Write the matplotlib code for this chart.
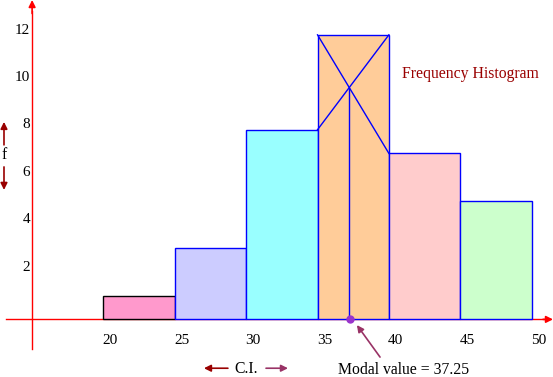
import matplotlib
matplotlib.use("Agg")
import matplotlib.pyplot as plt
from matplotlib.patches import Rectangle

# --- data ---------------------------------------------------------------
EDGES = [20, 25, 30, 35, 40, 45, 50]
FREQS = [1, 3, 8, 12, 7, 5]
Y_TICKS = [2, 4, 6, 8, 10, 12]
MODAL_VALUE = 37.25

FILLS = ["#ff99cc", "#ccccff", "#99ffff", "#ffcc99", "#ffcccc", "#ccffcc"]
EDGE_COLS = ["#000000", "#0000ff", "#0000ff", "#0000ff", "#0000ff", "#0000ff"]
AXIS_RED = "#ff0000"
DARK_RED = "#990000"
PLUM = "#993366"

plt.rcParams["font.family"] = ["Liberation Serif", "DejaVu Serif"]

fig = plt.figure(figsize=(5.53, 3.77), dpi=100)
ax = fig.add_axes([0, 0, 1, 1])
ax.set_xlim(12.75, 51.5)
ax.set_ylim(-2.43, 13.47)
ax.axis("off")


def arrow(x0, y0, x1, y1, color, scale=10):
    ax.annotate("", xy=(x1, y1), xytext=(x0, y0),
                arrowprops=dict(arrowstyle="-|>", color=color, lw=1.2,
                                shrinkA=0, shrinkB=0, mutation_scale=scale))


# bars
for i, f in enumerate(FREQS):
    x0, x1 = EDGES[i], EDGES[i + 1]
    ax.add_patch(Rectangle((x0, 0), x1 - x0, f, facecolor=FILLS[i],
                           edgecolor=EDGE_COLS[i], linewidth=1.0, zorder=2))

# modal construction: cross lines inside modal bar
m = FREQS.index(max(FREQS))
l, r = EDGES[m], EDGES[m + 1]
fm, f_prev, f_next = FREQS[m], FREQS[m - 1], FREQS[m + 1]
ax.plot([l, r], [fm, f_next], color="#0000ff", lw=1.0, zorder=3)
ax.plot([r, l], [fm, f_prev], color="#0000ff", lw=1.0, zorder=3)
xi = l + (fm - f_prev) / ((fm - f_prev) + (fm - f_next)) * (r - l)
yi = fm - (xi - l) * (fm - f_next) / (r - l)
ax.plot([xi, xi], [0, yi], color="#0000ff", lw=1.0, zorder=3)

# axes lines with arrows
ax.plot([13.2, 51.0], [0, 0], color=AXIS_RED, lw=1.0, zorder=1)
ax.plot([15, 15], [-1.27, 13.0], color=AXIS_RED, lw=1.0, zorder=1)
arrow(50.8, 0, 51.5, 0, AXIS_RED)
arrow(15, 12.9, 15, 13.47, AXIS_RED)

# tick labels
for e in EDGES:
    ax.text(e - 0.05, -0.87, str(e), ha="left", va="center", fontsize=11)
for t in Y_TICKS:
    ax.text(14.85, t + 0.2, str(t), ha="right", va="center", fontsize=11)

# modal dot and label
ax.plot([MODAL_VALUE], [0], "o", color="#9933cc", ms=5, zorder=4)
arrow(39.38, -1.59, 37.76, -0.24, PLUM)
ax.text(36.43, -2.15, f"Modal value = {MODAL_VALUE}", ha="left",
        va="center", fontsize=11.3)

# C.I. label with arrows
ax.text(30.03, -2.1, "C.I.", ha="center", va="center", fontsize=11.3)
arrow(28.72, -2.06, 27.04, -2.06, DARK_RED)
arrow(31.39, -2.06, 32.93, -2.06, PLUM)

# f label with arrows
ax.text(13.03, 6.93, "f", ha="center", va="center", fontsize=11.3)
arrow(13.03, 7.36, 13.03, 8.33, DARK_RED)
arrow(13.03, 6.43, 13.03, 5.46, DARK_RED)

ax.text(40.9, 10.35, "Frequency Histogram", ha="left", va="center",
        fontsize=11.3, color=DARK_RED)

fig.savefig("out.png", dpi=100)
